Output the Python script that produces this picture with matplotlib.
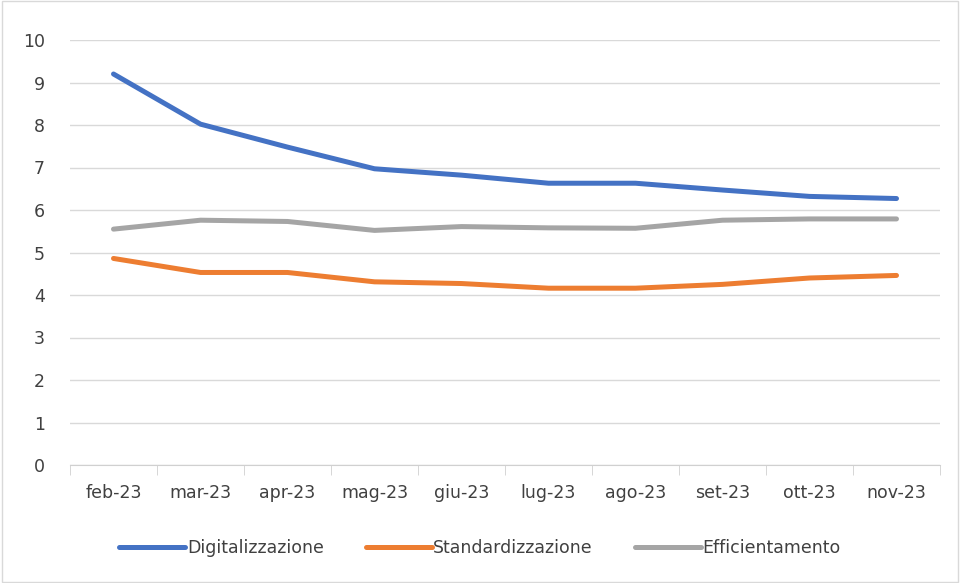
import matplotlib.pyplot as plt
from matplotlib.patches import Rectangle

plt.rcParams['font.family'] = ['DejaVu Sans']

mesi = ['feb-23', 'mar-23', 'apr-23', 'mag-23', 'giu-23', 'lug-23', 'ago-23', 'set-23', 'ott-23', 'nov-23']
digitalizzazione = [9.2, 8.02, 7.48, 6.97, 6.82, 6.63, 6.63, 6.47, 6.32, 6.27]
standardizzazione = [4.86, 4.53, 4.53, 4.31, 4.27, 4.16, 4.16, 4.25, 4.4, 4.46]
efficientamento = [5.55, 5.76, 5.73, 5.52, 5.61, 5.58, 5.57, 5.76, 5.79, 5.79]

fig = plt.figure(figsize=(9.6, 5.83), dpi=100)
ax = fig.add_axes([70/960, (583-465)/583, 870/960, 425/583])

x = list(range(len(mesi)))
stile = dict(lw=3.6, solid_capstyle='round', solid_joinstyle='round')
ax.plot(x, digitalizzazione, color='#4472C4', label='Digitalizzazione', **stile)
ax.plot(x, standardizzazione, color='#ED7D31', label='Standardizzazione', **stile)
ax.plot(x, efficientamento, color='#A5A5A5', label='Efficientamento', **stile)

ax.set_xlim(-0.5, len(mesi) - 0.5)
ax.set_ylim(0, 10)
ax.set_yticks(range(0, 11))
ax.set_xticks(x)
ax.set_xticklabels(mesi)
ax.set_xticks([i - 0.5 for i in range(len(mesi) + 1)], minor=True)
ax.tick_params(axis='x', which='major', length=0, pad=14, labelsize=12.5, colors='#404040')
ax.tick_params(axis='x', which='minor', length=7, color='#D0D0D0')
ax.tick_params(axis='y', length=0, pad=18, labelsize=12.5, colors='#404040')
ax.grid(axis='y', color='#D9D9D9', lw=1)
ax.set_axisbelow(True)
for s in ['top', 'right', 'left']:
    ax.spines[s].set_visible(False)
ax.spines['bottom'].set_color('#D0D0D0')

leg = fig.legend(loc='center', bbox_to_anchor=(0.5, (583-548)/583), ncol=3, frameon=False,
                 fontsize=12.5, handlelength=3.8, handletextpad=0.1, columnspacing=2.4)
for t in leg.get_texts():
    t.set_color('#404040')

fig.patches.append(Rectangle((0.002, 0.002), 0.996, 0.996, transform=fig.transFigure,
                             fill=False, edgecolor='#D9D9D9', lw=1))

fig.savefig('out.png', dpi=100)
